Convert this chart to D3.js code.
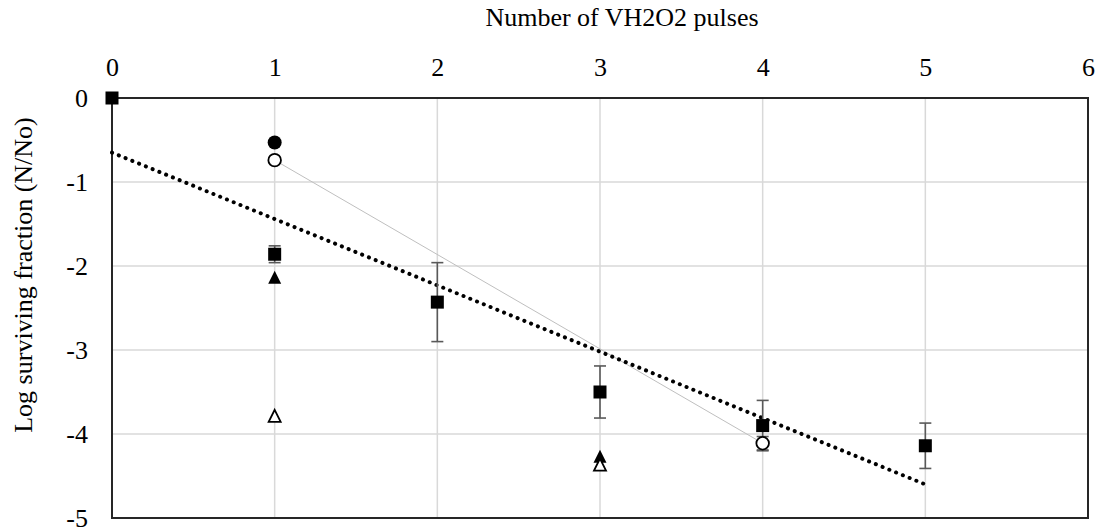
<!DOCTYPE html>
<html>
<head>
<meta charset="utf-8">
<script src="https://cdn.jsdelivr.net/npm/d3@7"></script>
<style>
  body { margin: 0; background: #fff; }
  text { font-family: "Liberation Serif", "Times New Roman", serif; fill: #000; }
</style>
</head>
<body>
<div id="chart"></div>
<script>
// values
const xTicks = [0, 1, 2, 3, 4, 5, 6];
const yTicks = [0, -1, -2, -3, -4, -5];

const squareX = [0, 1, 2, 3, 4, 5];
const squareY = [0, -1.86, -2.43, -3.5, -3.9, -4.14];
const squareErr = [0, 0.1, 0.47, 0.31, 0.3, 0.27];

const dotX = [1];
const dotY = [-0.53];

const ringX = [1, 4];
const ringY = [-0.74, -4.11];
const ringErr = [0, 0.08];

const triX = [1, 3];
const triY = [-2.14, -4.27];

const openTriX = [1, 3];
const openTriY = [-3.79, -4.37];

const trendX = [0, 5];
const trendY = [-0.65, -4.6];

const W = 1101, H = 530;
const svg = d3.select('#chart').append('svg')
    .attr('width', W)
    .attr('height', H);

const x = d3.scaleLinear().domain([0, 6]).range([112, 1088]);
const y = d3.scaleLinear().domain([0, -5]).range([98, 518]);

// grid
svg.append('g').selectAll('line.vg')
    .data(xTicks.slice(1, -1))
    .join('line')
    .attr('x1', d => x(d)).attr('x2', d => x(d))
    .attr('y1', y(0)).attr('y2', y(-5))
    .attr('stroke', '#d9d9d9').attr('stroke-width', 1.5);
svg.append('g').selectAll('line.hg')
    .data(yTicks.slice(1, -1))
    .join('line')
    .attr('x1', x(0)).attr('x2', x(6))
    .attr('y1', d => y(d)).attr('y2', d => y(d))
    .attr('stroke', '#d9d9d9').attr('stroke-width', 1.5);

// plot frame
svg.append('rect')
    .attr('x', x(0)).attr('y', y(0))
    .attr('width', x(6) - x(0)).attr('height', y(-5) - y(0))
    .attr('fill', 'none').attr('stroke', '#262626').attr('stroke-width', 2);

// axes: x on top, y on left
const xAxis = svg.append('g')
    .attr('transform', `translate(0,${y(0)})`)
    .call(d3.axisTop(x).tickValues(xTicks).tickSize(0).tickPadding(22).tickFormat(d => String(d)));
xAxis.select('.domain').remove();
xAxis.selectAll('text').style('font-size', '26px').attr('font-family', null);

const yAxis = svg.append('g')
    .attr('transform', `translate(${x(0)},0)`)
    .call(d3.axisLeft(y).tickValues(yTicks).tickSize(0).tickPadding(24).tickFormat(d => String(d)));
yAxis.select('.domain').remove();
yAxis.selectAll('text').style('font-size', '26px').attr('font-family', null);

// connecting line for open circles
svg.append('path')
    .datum(ringX.map((d, i) => [d, ringY[i]]))
    .attr('d', d3.line().x(d => x(d[0])).y(d => y(d[1])))
    .attr('fill', 'none').attr('stroke', '#bfbfbf').attr('stroke-width', 1);

// linear trend (dotted)
svg.append('path')
    .datum(trendX.map((d, i) => [d, trendY[i]]))
    .attr('d', d3.line().x(d => x(d[0])).y(d => y(d[1])))
    .attr('fill', 'none').attr('stroke', '#000')
    .attr('stroke-width', 4).attr('stroke-linecap', 'round')
    .attr('stroke-dasharray', '0.1 7.2');

// error bars
function errorBars(xs, ys, es) {
  const g = svg.append('g').attr('stroke', '#595959').attr('stroke-width', 1.6);
  xs.forEach((d, i) => {
    if (!es[i]) return;
    const cx = x(d), t = y(ys[i] + es[i]), b = y(ys[i] - es[i]);
    g.append('line').attr('x1', cx).attr('x2', cx).attr('y1', t).attr('y2', b);
    g.append('line').attr('x1', cx - 6).attr('x2', cx + 6).attr('y1', t).attr('y2', t);
    g.append('line').attr('x1', cx - 6).attr('x2', cx + 6).attr('y1', b).attr('y2', b);
  });
}
errorBars(squareX, squareY, squareErr);
errorBars(ringX, ringY, ringErr);

// markers
svg.append('g').selectAll('rect')
    .data(squareX.map((d, i) => [d, squareY[i]]))
    .join('rect')
    .attr('x', d => x(d[0]) - 6.5).attr('y', d => y(d[1]) - 6.5)
    .attr('width', 13).attr('height', 13)
    .attr('fill', '#000');

svg.append('g').selectAll('circle')
    .data(dotX.map((d, i) => [d, dotY[i]]))
    .join('circle')
    .attr('cx', d => x(d[0])).attr('cy', d => y(d[1])).attr('r', 7)
    .attr('fill', '#000');

svg.append('g').selectAll('circle')
    .data(ringX.map((d, i) => [d, ringY[i]]))
    .join('circle')
    .attr('cx', d => x(d[0])).attr('cy', d => y(d[1])).attr('r', 6.3)
    .attr('fill', '#fff').attr('stroke', '#000').attr('stroke-width', 1.8);

const tri = (w, h) => `M0,${-h / 2 - 1}L${w / 2},${h / 2}L${-w / 2},${h / 2}Z`;

svg.append('g').selectAll('path')
    .data(triX.map((d, i) => [d, triY[i]]))
    .join('path')
    .attr('transform', d => `translate(${x(d[0])},${y(d[1])})`)
    .attr('d', tri(13, 12))
    .attr('fill', '#000');

svg.append('g').selectAll('path')
    .data(openTriX.map((d, i) => [d, openTriY[i]]))
    .join('path')
    .attr('transform', d => `translate(${x(d[0])},${y(d[1])})`)
    .attr('d', tri(12, 11))
    .attr('fill', '#fff').attr('stroke', '#000').attr('stroke-width', 1.8)
    .attr('stroke-linejoin', 'miter');

// axis titles
svg.append('text')
    .attr('x', 622).attr('y', 26)
    .attr('text-anchor', 'middle')
    .style('font-size', '26px')
    .text('Number of VH2O2 pulses');

svg.append('text')
    .attr('transform', 'translate(32,275) rotate(-90)')
    .attr('text-anchor', 'middle')
    .style('font-size', '26px')
    .text('Log surviving fraction (N/No)');
</script>
</body>
</html>
